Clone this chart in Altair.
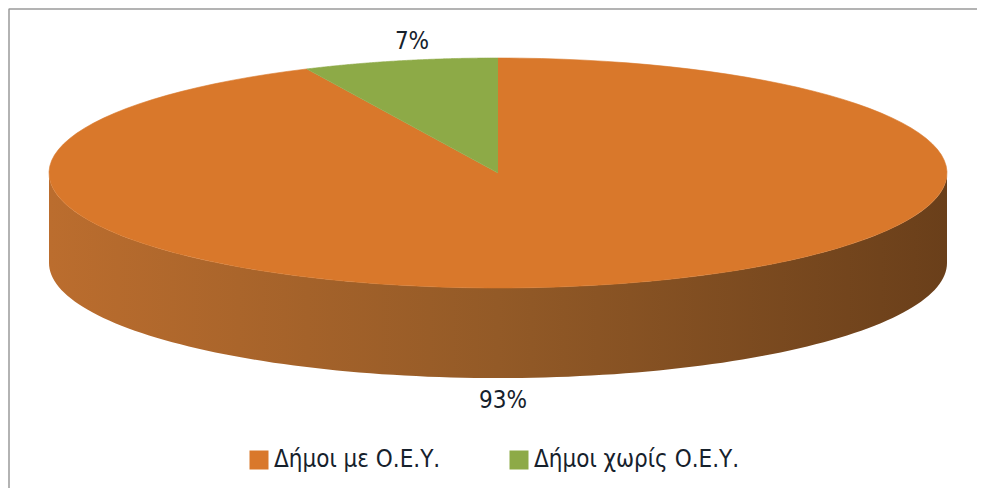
import altair as alt
import pandas as pd

# ---- data ----
categories = ["Δήμοι με Ο.Ε.Υ.", "Δήμοι χωρίς Ο.Ε.Υ."]
values = [93, 7]
colors = ["#D9782B", "#8DAA47"]

df = pd.DataFrame({"cat": categories, "value": values, "idx": list(range(len(values)))})

FONT = "DejaVu Sans Condensed, Liberation Sans Narrow, sans-serif"
TEXT_COLOR = "#16212C"
DEPTH = 0.783      # thickness of the 3-D pie, in units of the vertical radius
N = 120            # outline resolution

xs = alt.Scale(domain=[-1, 1], range=[41, 939])
ys = alt.Scale(domain=[-1, 1], range=[280, 50])
cscale = alt.Scale(domain=categories, range=colors)


def with_angles(ch):
    # slices are laid out clockwise from 12 o'clock, like the original
    return ch.transform_joinaggregate(total="sum(value)").transform_window(
        cum="sum(value)", sort=[{"field": "idx"}], frame=[None, 0]
    ).transform_calculate(
        a0="PI/2 - 2*PI*(datum.cum - datum.value)/datum.total",
        a1="PI/2 - 2*PI*datum.cum/datum.total",
    )


X = alt.X("px:Q", scale=xs, axis=None)
Y = alt.Y("py:Q", scale=ys, axis=None)

# ---- side wall (front half of the cylinder) ----
side = with_angles(alt.Chart(df)).transform_calculate(
    lo="max(datum.a1, -PI)", hi="min(datum.a0, 0)"
).transform_filter("datum.hi > datum.lo").transform_calculate(
    k=f"sequence(0, {2 * N + 2})"
).transform_flatten(["k"]).transform_calculate(
    t=f"datum.k <= {N} ? datum.k / {N} : ({2 * N + 1} - datum.k) / {N}",
    ang="datum.lo + (datum.hi - datum.lo) * datum.t",
    px="cos(datum.ang)",
    py=f"sin(datum.ang) - (datum.k <= {N} ? 0 : {DEPTH})",
).mark_line(
    strokeWidth=0,
    fill={
        "gradient": "linear",
        "x1": 0, "x2": 1, "y1": 0, "y2": 0,
        "stops": [
            {"offset": 0, "color": "#BB6D2E"},
            {"offset": 0.5, "color": "#935A27"},
            {"offset": 1, "color": "#6A3F1A"},
        ],
    },
).encode(x=X, y=Y, order="k:Q", detail="cat:N")

# ---- top face slices ----
top = with_angles(alt.Chart(df)).transform_calculate(
    k=f"sequence(-1, {N + 1})"
).transform_flatten(["k"]).transform_calculate(
    ang=f"datum.a0 + (datum.a1 - datum.a0) * max(datum.k, 0) / {N}",
    px="datum.k < 0 ? 0 : cos(datum.ang)",
    py="datum.k < 0 ? 0 : sin(datum.ang)",
).mark_line(strokeWidth=0.6, strokeJoin="round").encode(
    x=X,
    y=Y,
    order="k:Q",
    fill=alt.Fill(
        "cat:N",
        scale=cscale,
        sort=categories,
        legend=alt.Legend(
            title=None,
            orient="none",
            direction="horizontal",
            legendX=239,
            legendY=440,
            symbolType="square",
            symbolSize=361,
            symbolStrokeWidth=0,
            labelFont=FONT,
            labelFontSize=24,
            labelColor=TEXT_COLOR,
            labelOffset=3,
            labelLimit=0,
            columnPadding=66,
            padding=0,
        ),
    ),
    stroke=alt.Stroke("cat:N", scale=cscale, legend=None),
)

# ---- percentage labels ----
labels = with_angles(alt.Chart(df)).transform_calculate(
    mid="(datum.a0 + datum.a1) / 2",
    px="sin(datum.mid) > 0 ? 0.878 * cos(datum.mid) : 0.011",
    py=f"sin(datum.mid) > 0 ? 1.139 : -1 - {DEPTH} - 0.2",
    label="round(100 * datum.value / datum.total) + '%'",
).mark_text(font=FONT, fontSize=24, color=TEXT_COLOR, baseline="middle", align="center").encode(
    x=X, y=Y, text="label:N"
)

# ---- frame line (left and top edge of the original picture) ----
frame_df = pd.DataFrame({"k": [0, 1, 2], "fx": [969, 1, 1], "fy": [1, 1, 480]})
frame = alt.Chart(frame_df).mark_line(
    color="#9A9A9A", strokeWidth=1.5, strokeJoin="bevel", strokeCap="butt"
).encode(
    x=alt.X("fx:Q", scale=None, axis=None),
    y=alt.Y("fy:Q", scale=None, axis=None),
    order="k:Q",
)

chart = alt.layer(side, top, labels, frame).resolve_scale(
    x="independent", y="independent"
).properties(
    width=970,
    height=481,
    padding=0,
    background="white",
    autosize=alt.AutoSizeParams(type="none"),
).configure_view(strokeWidth=0, stroke="transparent")

chart.save("out.html", embed_options={"renderer": "svg", "actions": False})
